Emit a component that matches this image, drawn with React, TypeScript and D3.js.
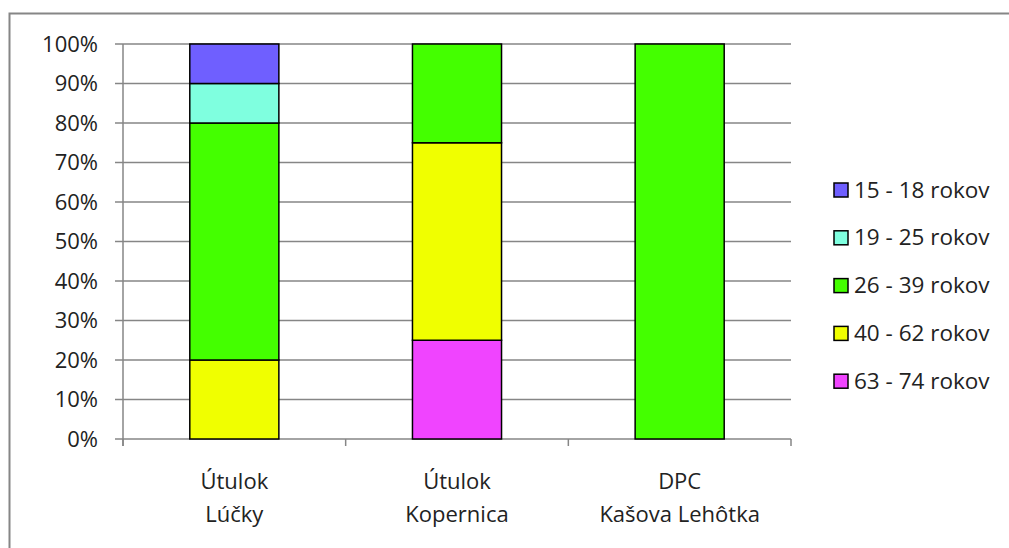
import { useEffect, useRef } from 'react';
import * as d3 from 'd3';

// kategórie (dva riadky popisu)
const categories = ['Útulok\nLúčky', 'Útulok\nKopernica', 'DPC\nKašova Lehôtka'];
// vekové skupiny odspodu nahor
const groups = ['63 - 74 rokov', '40 - 62 rokov', '26 - 39 rokov', '19 - 25 rokov', '15 - 18 rokov'];
const colors = ['#F044FF', '#F0FF00', '#44FF00', '#7FFFDF', '#6F5FFF'];
// podiely pre každú skupinu v poradí kategórií
const s6374 = [0, 0.25, 0];
const s4062 = [0.2, 0.5, 0];
const s2639 = [0.6, 0.25, 1];
const s1925 = [0.1, 0, 0];
const s1518 = [0.1, 0, 0];
const yTicks = [0, 0.1, 0.2, 0.3, 0.4, 0.5, 0.6, 0.7, 0.8, 0.9, 1];

const W = 1009;
const H = 548;
const FONT = '"Open Sans", sans-serif';

export default function App() {
  const svgRef = useRef<SVGSVGElement>(null);

  useEffect(() => {
    if (!svgRef.current) return;
    const root = d3.select(svgRef.current);
    root.selectAll('*').remove();

    // rámček grafu
    root
      .append('rect')
      .attr('x', 9.5)
      .attr('y', 13.5)
      .attr('width', W + 20)
      .attr('height', H + 20)
      .attr('fill', 'white')
      .attr('stroke', '#868686')
      .attr('stroke-width', 2);

    const x0 = 123;
    const x1 = 791;
    const yTop = 44;
    const yBot = 439;

    const xScale = d3
      .scaleBand()
      .domain(categories)
      .range([x0, x1])
      .paddingInner(0.6)
      .paddingOuter(0.3);
    const yScale = d3.scaleLinear().domain([0, 1]).range([yBot, yTop]);

    // mriežka a značky osi y
    root
      .append('g')
      .selectAll('line')
      .data(yTicks)
      .join('line')
      .attr('x1', x0 - 8)
      .attr('x2', x1)
      .attr('y1', (d) => yScale(d))
      .attr('y2', (d) => yScale(d))
      .attr('stroke', '#868686')
      .attr('stroke-width', 1.5);

    root
      .append('g')
      .selectAll('text')
      .data(yTicks)
      .join('text')
      .attr('x', 98)
      .attr('y', (d) => yScale(d) + 7.5)
      .attr('text-anchor', 'end')
      .attr('font-family', FONT)
      .attr('font-size', 22)
      .attr('fill', '#222')
      .text((d) => d3.format('.0%')(d));

    // os y
    root
      .append('line')
      .attr('x1', x0)
      .attr('x2', x0)
      .attr('y1', yTop)
      .attr('y2', yBot + 7)
      .attr('stroke', '#868686')
      .attr('stroke-width', 1.5);

    // značky osi x na hraniciach kategórií
    const step = xScale.step();
    root
      .append('g')
      .selectAll('line')
      .data(d3.range(categories.length + 1))
      .join('line')
      .attr('x1', (i) => x0 + i * step)
      .attr('x2', (i) => x0 + i * step)
      .attr('y1', yBot)
      .attr('y2', yBot + 7)
      .attr('stroke', '#868686')
      .attr('stroke-width', 1.5);

    // skladané stĺpce
    const seriesValues = [s6374, s4062, s2639, s1925, s1518];
    const table = categories.map((c, i) => {
      const row: any = { cat: c };
      groups.forEach((g, gi) => (row[g] = seriesValues[gi][i]));
      return row;
    });
    const stacked = d3.stack().keys(groups)(table);

    stacked.forEach((layer, li) => {
      root
        .append('g')
        .selectAll('rect')
        .data(layer.filter((d) => d[1] - d[0] > 0))
        .join('rect')
        .attr('x', (d: any) => xScale(d.data.cat)!)
        .attr('width', xScale.bandwidth())
        .attr('y', (d) => yScale(d[1]))
        .attr('height', (d) => yScale(d[0]) - yScale(d[1]))
        .attr('fill', colors[li])
        .attr('stroke', '#000')
        .attr('stroke-width', 1.5);
    });

    // popisy kategórií
    categories.forEach((c) => {
      const cx = xScale(c)! + xScale.bandwidth() / 2;
      c.split('\n').forEach((line, li) => {
        root
          .append('text')
          .attr('x', cx)
          .attr('y', 489 + li * 33)
          .attr('text-anchor', 'middle')
          .attr('font-family', FONT)
          .attr('font-size', 22)
          .attr('fill', '#222')
          .text(line);
      });
    });

    // legenda (zhora nadol)
    const legendItems = groups.map((g, i) => ({ g, c: colors[i] })).reverse();
    const lg = root
      .append('g')
      .selectAll('g')
      .data(legendItems)
      .join('g')
      .attr('transform', (_, i) => `translate(834,${183 + i * 47.8})`);
    lg.append('rect')
      .attr('width', 14)
      .attr('height', 14)
      .attr('fill', (d) => d.c)
      .attr('stroke', '#000')
      .attr('stroke-width', 1.5);
    lg.append('text')
      .attr('x', 20)
      .attr('y', 14.5)
      .attr('font-family', FONT)
      .attr('font-size', 22.5)
      .attr('fill', '#222')
      .text((d) => d.g);
  }, []);

  return (
    <svg
      ref={svgRef}
      width={W}
      height={H}
      style={{ position: 'absolute', left: 0, top: 0, background: 'white' }}
    />
  );
}
